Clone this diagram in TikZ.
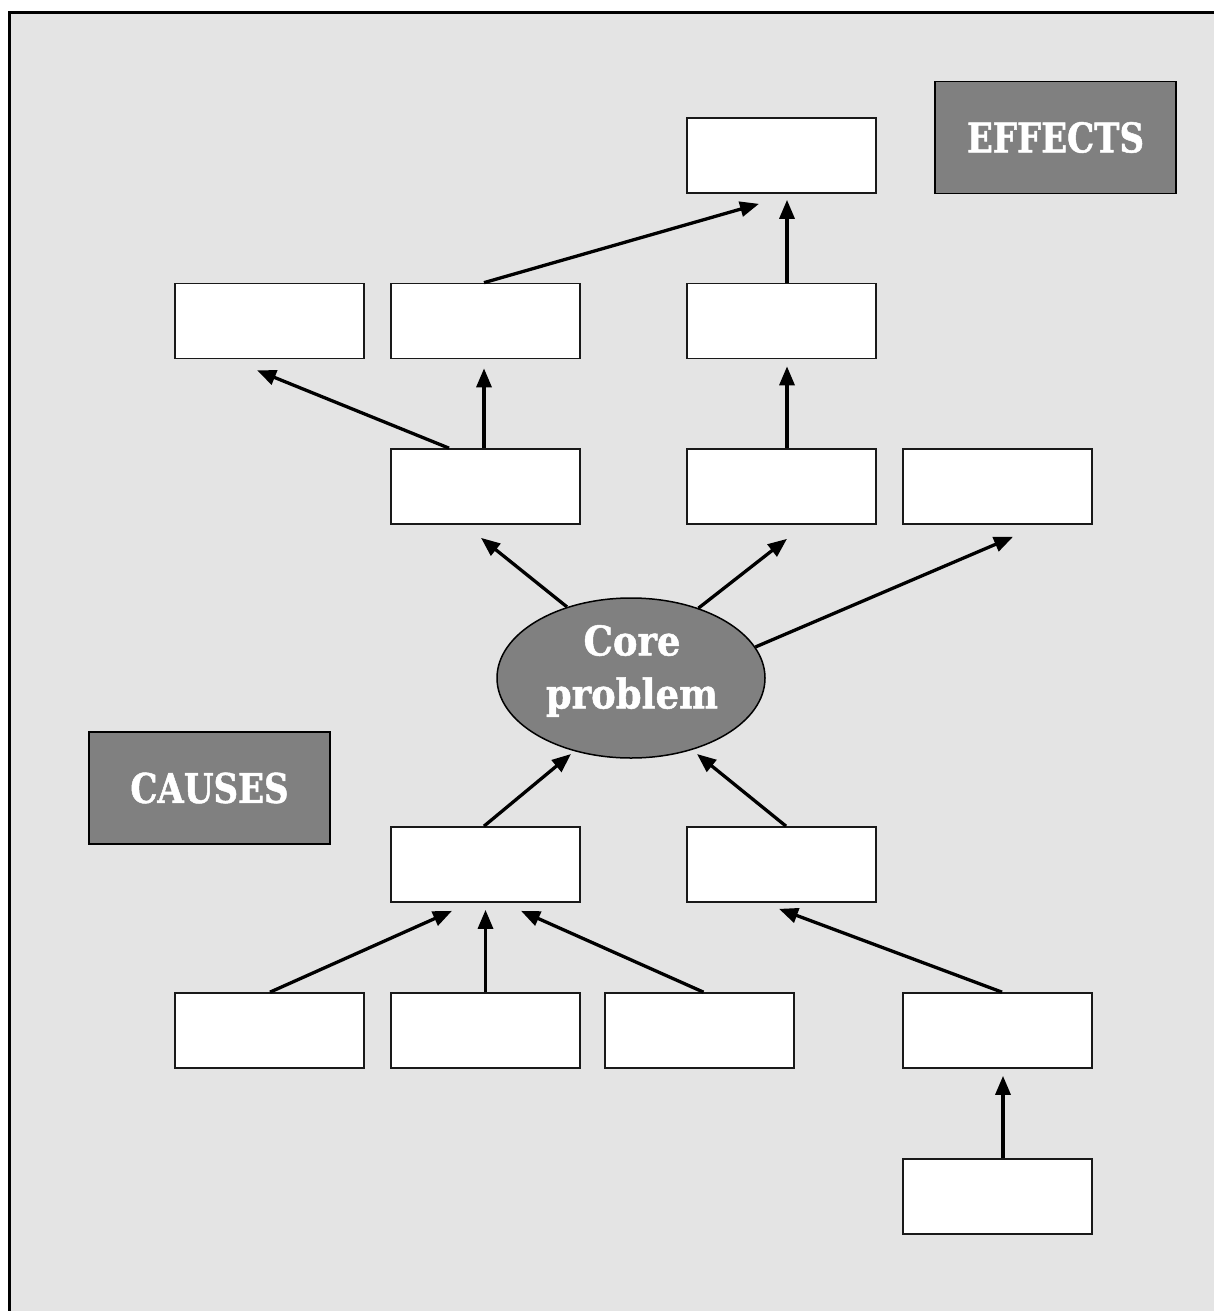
\documentclass[tikz,border=0pt]{standalone}
\usepackage{fontspec}
\usetikzlibrary{arrows.meta,shapes.geometric,calc}
\newfontfamily\lblfont{DejaVu Serif}[FakeStretch=0.83,FakeBold=1.2]
\newfontfamily\corefont{DejaVu Serif}[FakeStretch=0.9,FakeBold=1.2]
\definecolor{bggray}{HTML}{E4E4E4}
\definecolor{hdrgray}{HTML}{808080}
\tikzset{
  box/.style={draw=black!90, fill=white, line width=1.7pt, minimum width=189pt, minimum height=75pt, inner sep=0pt},
  hdr/.style={draw=black, fill=hdrgray, line width=1.7pt, minimum width=241pt, minimum height=112pt, inner sep=0pt, text=white, font=\lblfont\bfseries\fontsize{41}{49}\selectfont},
  coreshape/.style={ellipse, draw=black, fill=hdrgray, line width=1.5pt, minimum width=268pt, minimum height=160pt, inner sep=0pt},
  coretext/.style={text=white, align=center, inner sep=0pt, font=\corefont\bfseries\fontsize{41}{53}\selectfont},
  arr/.style={line width=3.3pt, -{Triangle[length=19pt,width=15pt]}}
}
\begin{document}
\begin{tikzpicture}[x=1pt,y=-1pt]
\useasboundingbox (0,0) rectangle (1214,1311);
\clip (0,0) rectangle (1214,1311);
\fill[white] (0,0) rectangle (1214,1311);
\filldraw[fill=bggray, draw=black, line width=3pt] (9.5,13) rectangle (1240,1340);

% header boxes
\node[hdr] (effects) at (1055.5,137.5) {EFFECTS};
\node[hdr] (causes) at (209.5,788) {CAUSES};

% effect boxes
\node[box] (e1) at (781.5,155.5) {};
\node[box] (a) at (269.5,321) {};
\node[box] (b) at (485.5,321) {};
\node[box] (c) at (781.5,321) {};
\node[box] (d) at (485.5,486.5) {};
\node[box] (f) at (781.5,486.5) {};
\node[box] (g) at (997.5,486.5) {};

% core problem
\node[coreshape] (core) at (631,678) {};
\node[coretext] (coretxt) at (632,671) {Core\\problem};

% cause boxes
\node[box] (h) at (485.5,864.5) {};
\node[box] (i) at (781.5,864.5) {};
\node[box] (j) at (269.5,1030.5) {};
\node[box] (k) at (485.5,1030.5) {};
\node[box] (l) at (699.5,1030.5) {};
\node[box] (m) at (997.5,1030.5) {};
\node[box] (n) at (997.5,1196.5) {};

% arrows (effects)
\draw[arr] ($(b.north)+(-1.5,0)$) -- ($(e1.south)+(-22.5,10)$);
\draw[arr] ($(c.north)+(5.5,0)$) -- ($(e1.south)+(5.5,6)$);
\draw[arr] ($(d.north)+(-36.5,0)$) -- ($(a.south)+(-12.5,11)$);
\draw[arr] ($(d.north)+(-1.5,0)$) -- ($(b.south)+(-1.5,9)$);
\draw[arr] ($(f.north)+(5.5,0)$) -- ($(c.south)+(5.5,7)$);
\draw[arr] (core.132) -- ($(d.south)+(-4.5,13)$);
\draw[arr] (core.46) -- ($(f.south)+(5.5,14)$);
\draw[arr] (core.14) -- ($(g.south)+(15.5,12)$);

% arrows (causes)
\draw[arr] ($(h.north)+(-1.5,0)$) -- ($(core.center)+(-60,76)$);
\draw[arr] ($(i.north)+(4.5,0)$) -- ($(core.center)+(66,76)$);
\draw[arr] ($(j.north)+(0.5,0)$) -- ($(h.south)+(-33.5,8)$);
\draw[arr] ($(k.north)+(0,0)$) -- ($(h.south)+(0,7)$);
\draw[arr] ($(l.north)+(4,0)$) -- ($(h.south)+(35.5,8)$);
\draw[arr] ($(m.north)+(4.5,0)$) -- ($(i.south)+(-2.5,6)$);
\draw[arr] ($(n.north)+(5.5,0)$) -- ($(m.south)+(5.5,7)$);
\end{tikzpicture}
\end{document}
